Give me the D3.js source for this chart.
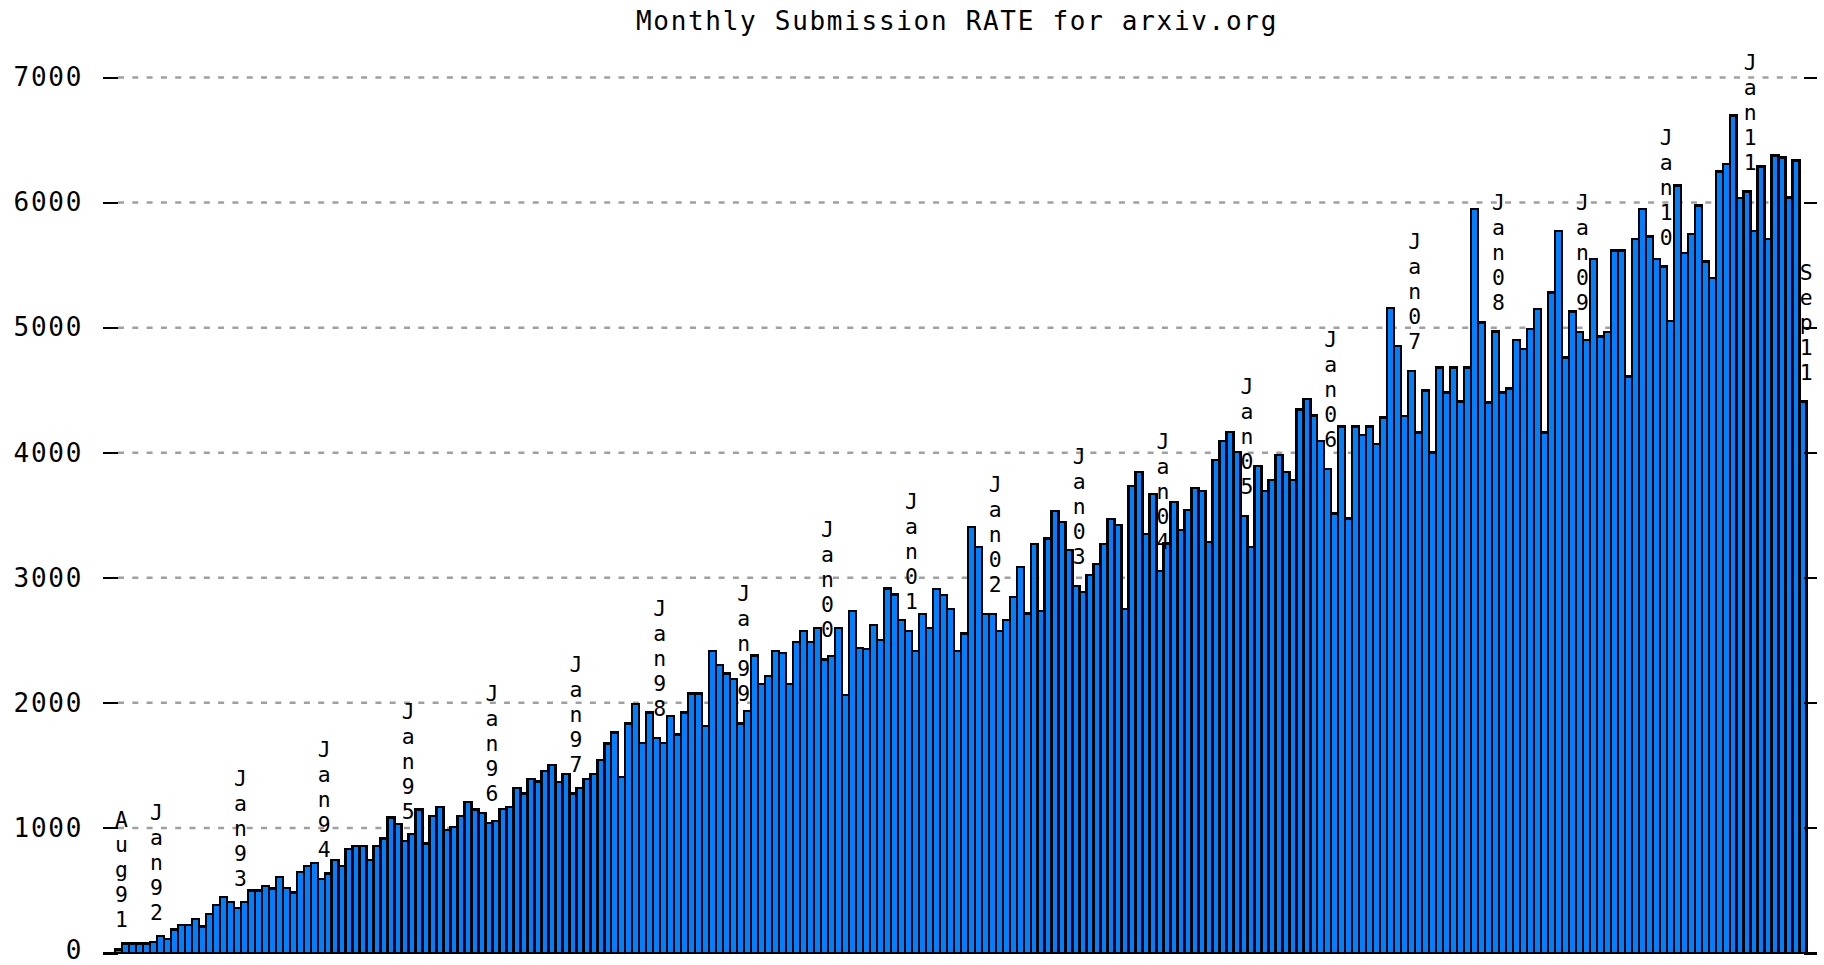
<!DOCTYPE html>
<html lang="en">
<head>
<meta charset="UTF-8">
<title>Monthly Submission RATE for arxiv.org</title>
<script src="https://d3js.org/d3.v7.min.js"></script>
<style>
  body { margin: 0; background: #fff; }
  svg text { font-family: "DejaVu Sans Mono", monospace; font-size: 26px; fill: #000; }
  .title, .tick text { letter-spacing: 1.7px; }
  svg text.mlabel { font-size: 21.4px; }
  .grid { stroke: #a0a0a0; stroke-width: 2.5; stroke-dasharray: 6 8.3; }
  .bar { fill: #0080ff; stroke: #000; stroke-width: 2.4; shape-rendering: crispEdges; }
  .tick line, .baseline { stroke: #000; stroke-width: 2; shape-rendering: crispEdges; }
</style>
</head>
<body>
<svg width="1824" height="965"></svg>
<script>
// monthly submissions, one array per year (1991 starts in Aug, 2011 ends in Sep)
const y1991 = [29, 77, 77, 77, 77];
const y1992 = [90, 138, 110, 187, 222, 222, 272, 211, 312, 382, 446, 410];
const y1993 = [360, 410, 499, 499, 536, 515, 608, 520, 483, 648, 696, 720];
const y1994 = [590, 635, 742, 696, 830, 857, 857, 742, 857, 915, 1083, 1030];
const y1995 = [896, 950, 1147, 875, 1096, 1168, 982, 1008, 1096, 1208, 1147, 1120];
const y1996 = [1040, 1056, 1150, 1168, 1320, 1275, 1390, 1370, 1456, 1502, 1368, 1432];
const y1997 = [1275, 1320, 1390, 1432, 1542, 1675, 1763, 1408, 1835, 1990, 1680, 1923];
const y1998 = [1720, 1680, 1896, 1747, 1923, 2075, 2075, 1813, 2416, 2301, 2235, 2190];
const y1999 = [1835, 1933, 2380, 2150, 2214, 2416, 2400, 2150, 2488, 2576, 2488, 2600];
const y2000 = [2347, 2374, 2600, 2062, 2734, 2440, 2430, 2622, 2504, 2915, 2867, 2662];
const y2001 = [2574, 2416, 2710, 2600, 2910, 2862, 2750, 2416, 2555, 3404, 3248, 2710];
const y2002 = [2710, 2576, 2662, 2848, 3088, 2715, 3270, 2736, 3315, 3536, 3448, 3221];
const y2003 = [2936, 2888, 3021, 3109, 3270, 3469, 3421, 2749, 3736, 3848, 3349, 3669];
const y2004 = [3056, 3275, 3608, 3381, 3540, 3720, 3696, 3288, 3941, 4096, 4168, 4008];
const y2005 = [3493, 3248, 3896, 3696, 3781, 3981, 3848, 3781, 4347, 4429, 4296, 4096];
const y2006 = [3869, 3515, 4208, 3475, 4208, 4141, 4208, 4069, 4280, 5155, 4855, 4293];
const y2007 = [4653, 4163, 4496, 4003, 4680, 4480, 4680, 4408, 4680, 5949, 5040, 4403];
const y2008 = [4968, 4480, 4515, 4901, 4829, 4989, 5149, 4163, 5280, 5773, 4760, 5128];
const y2009 = [4963, 4901, 5549, 4928, 4963, 5616, 5616, 4608, 5709, 5949, 5728, 5549];
const y2010 = [5488, 5053, 6136, 5595, 5749, 5976, 5528, 5395, 6248, 6309, 6696, 6035];
const y2011 = [6088, 5773, 6288, 5709, 6376, 6360, 6040, 6336, 4408];

const years = [1991, 1992, 1993, 1994, 1995, 1996, 1997, 1998, 1999, 2000, 2001,
               2002, 2003, 2004, 2005, 2006, 2007, 2008, 2009, 2010, 2011];
const yearValues = [y1991, y1992, y1993, y1994, y1995, y1996, y1997, y1998, y1999, y2000, y2001,
                    y2002, y2003, y2004, y2005, y2006, y2007, y2008, y2009, y2010, y2011];
const monthNames = ["Jan", "Feb", "Mar", "Apr", "May", "Jun", "Jul", "Aug", "Sep", "Oct", "Nov", "Dec"];

// months that carry a vertical label
const labelled = ["Aug91", "Jan92", "Jan93", "Jan94", "Jan95", "Jan96", "Jan97", "Jan98", "Jan99",
                  "Jan00", "Jan01", "Jan02", "Jan03", "Jan04", "Jan05", "Jan06", "Jan07", "Jan08",
                  "Jan09", "Jan10", "Jan11", "Sep11"];
const yTicks = [0, 1000, 2000, 3000, 4000, 5000, 6000, 7000];

const rows = [];
years.forEach((yr, yi) => {
  const start = yr === 1991 ? 7 : 0;
  yearValues[yi].forEach((v, k) => {
    rows.push({key: monthNames[start + k] + String(yr).slice(2), value: v});
  });
});

const svg = d3.select("svg");

const x = d3.scaleBand()
  .domain(rows.map(d => d.key))
  .range([115, 1806.6])
  .padding(0);

const y = d3.scaleLinear()
  .domain([0, 7000])
  .range([953, 77.5]);

// title
svg.append("text")
  .attr("class", "title")
  .attr("x", 957)
  .attr("y", 30)
  .attr("text-anchor", "middle")
  .text("Monthly Submission RATE for arxiv.org");

// dashed grid
svg.append("g")
  .selectAll("line")
  .data(yTicks.filter(t => t > 0))
  .enter().append("line")
  .attr("class", "grid")
  .attr("x1", 118)
  .attr("x2", 1804)
  .attr("y1", d => y(d))
  .attr("y2", d => y(d));

// bars
svg.append("g")
  .selectAll("rect")
  .data(rows)
  .enter().append("rect")
  .attr("class", "bar")
  .attr("x", d => x(d.key))
  .attr("width", x.bandwidth())
  .attr("y", d => y(d.value))
  .attr("height", d => y(0) - y(d.value));

// left axis, ticks pointing inward
const left = svg.append("g")
  .attr("transform", "translate(103,0)")
  .call(d3.axisLeft(y).tickValues(yTicks).tickSize(-15).tickPadding(20).tickFormat(d3.format("d")));
left.select(".domain").remove();
left.selectAll(".tick text").filter(d => d === 0).attr("dy", "0.2em"); // keep "0" inside the frame

// mirrored ticks on the right
const right = svg.append("g")
  .attr("transform", "translate(1817,0)")
  .call(d3.axisRight(y).tickValues(yTicks).tickSize(-13).tickFormat(""));
right.select(".domain").remove();

// bottom axis line
svg.append("line")
  .attr("class", "baseline")
  .attr("x1", 103)
  .attr("x2", 1817)
  .attr("y1", y(0))
  .attr("y2", y(0));

// vertical month labels, one character per line, just above their bar
const lineStep = 25;
rows.filter(d => labelled.includes(d.key)).forEach(d => {
  const chars = d.key.split("");
  const cx = x(d.key) + x.bandwidth() / 2 + 3;
  const bottom = y(d.value) - 22;
  svg.append("text")
    .attr("class", "mlabel")
    .attr("text-anchor", "middle")
    .selectAll("tspan")
    .data(chars)
    .enter().append("tspan")
    .attr("x", cx)
    .attr("y", (c, k) => bottom - (chars.length - 1 - k) * lineStep)
    .text(c => c);
});
</script>
</body>
</html>
